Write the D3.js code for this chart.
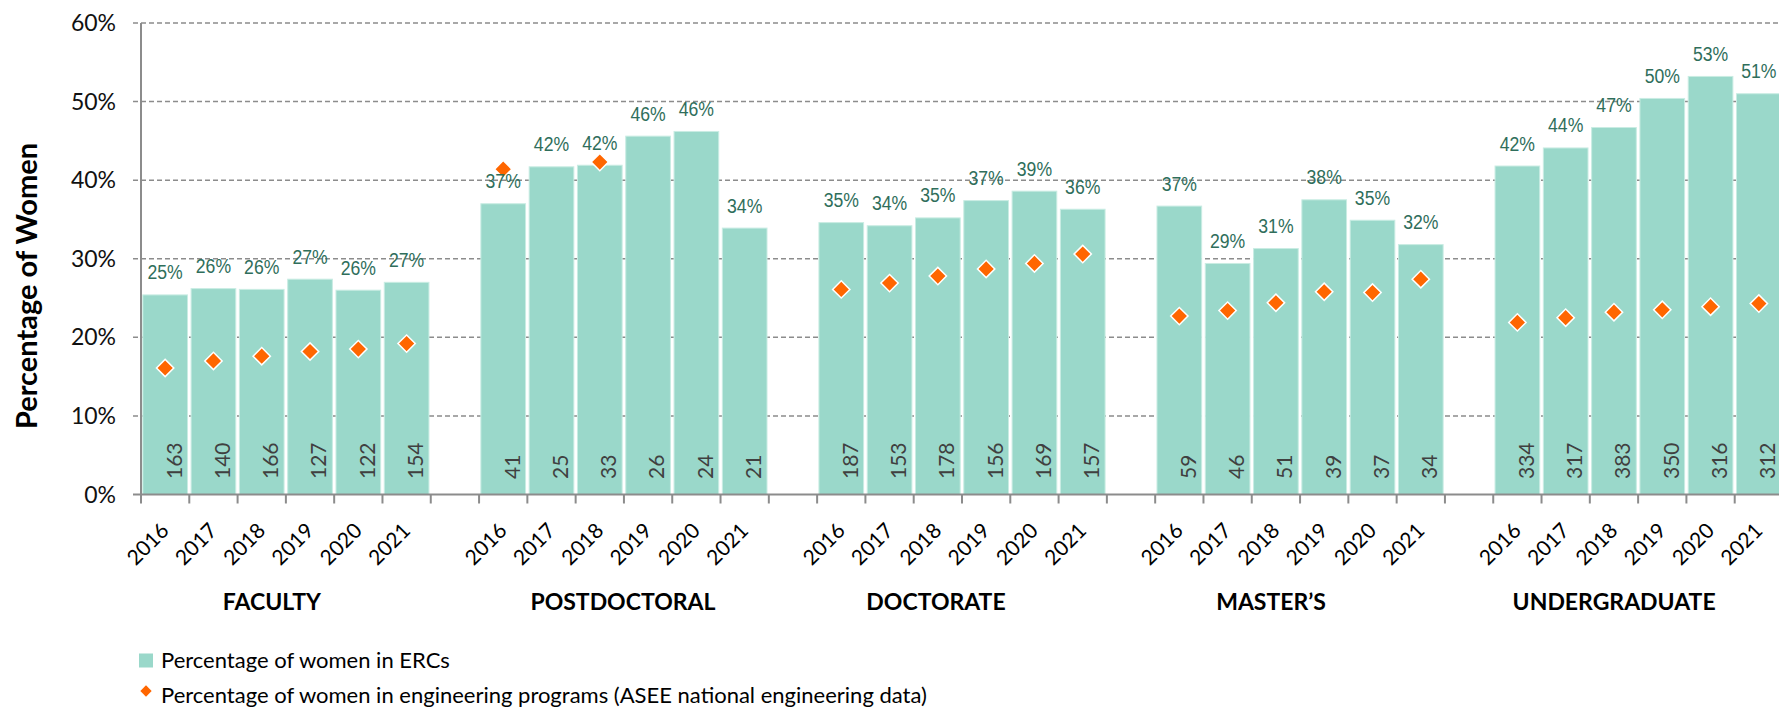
<!DOCTYPE html>
<html>
<head>
<meta charset="utf-8">
<script src="https://cdn.jsdelivr.net/npm/d3@7"></script>
<style>
  body { margin: 0; background: #fff; }
  svg { display: block; font-family: Lato, "Open Sans", sans-serif; }
  .grid line { stroke: #8c8c8c; stroke-width: 1.5; stroke-dasharray: 5 3; }
  .axis-line { stroke: #8c8c8c; stroke-width: 2; }
  .pct-label { font-family: "Liberation Sans", Arial, sans-serif; }
</style>
</head>
<body>
<svg id="chart" width="1779" height="707"></svg>
<script>
// Women in ERCs vs. national engineering programs, 2016-2021

const groups = ["FACULTY", "POSTDOCTORAL", "DOCTORATE", "MASTER\u2019S", "UNDERGRADUATE"];
const years = ["2016", "2017", "2018", "2019", "2020", "2021"];

// percentage of women in ERCs, one row per group
const ercShare = [
    [25.4, 26.2, 26.1, 27.4, 26.0, 27.0],
    [37.0, 41.7, 41.9, 45.6, 46.2, 33.9],
    [34.6, 34.2, 35.2, 37.4, 38.6, 36.3],
    [36.7, 29.4, 31.3, 37.5, 34.9, 31.8],
    [41.8, 44.1, 46.7, 50.4, 53.2, 51.0]
];

// ASEE national engineering data, null where nothing was plotted
const nationalShare = [
    [16.1, 17.0, 17.6, 18.2, 18.5, 19.2],
    [41.4, null, 42.3, null, null, null],
    [26.1, 26.9, 27.8, 28.7, 29.4, 30.6],
    [22.7, 23.4, 24.4, 25.8, 25.7, 27.4],
    [21.9, 22.5, 23.2, 23.5, 23.9, 24.3]
];

// number of women in ERCs (printed inside the bars)
const ercCount = [
    [163, 140, 166, 127, 122, 154],
    [41, 25, 33, 26, 24, 21],
    [187, 153, 178, 156, 169, 157],
    [59, 46, 51, 39, 37, 34],
    [334, 317, 383, 350, 316, 312]
];

const yTicks = [0, 10, 20, 30, 40, 50, 60];
const legendLabels = [
    "Percentage of women in ERCs",
    "Percentage of women in engineering programs (ASEE national engineering data)"
];

// ---- layout ----
const W = 1779, H = 707;
const plot = { left: 141, right: 1783, top: 23, bottom: 494.5 };
const barColor = "#9ad8ca";
const diamondColor = "#ff6600";
const groupLabelNudge = [-14, -1, -26, -29, -24];

// one slot per year, plus an empty slot between groups
const slots = [];
groups.forEach((g, gi) => {
    years.forEach((yr, yi) => {
        slots.push({ key: gi + "-" + yi, gi, yi, year: yr,
            erc: ercShare[gi][yi], nat: nationalShare[gi][yi], n: ercCount[gi][yi] });
    });
    if (gi < groups.length - 1) slots.push({ key: "gap" + gi, gap: true });
});
const data = slots.filter(s => !s.gap);

const x = d3.scaleBand()
    .domain(slots.map(s => s.key))
    .range([plot.left, plot.right])
    .paddingInner(0.075)
    .paddingOuter(0.0375);

const y = d3.scaleLinear()
    .domain([0, 60])
    .range([plot.bottom, plot.top]);

const bw = x.bandwidth();
const cx = d => x(d.key) + bw / 2;

const svg = d3.select("#chart");

// dashed gridlines
svg.append("g").attr("class", "grid")
    .selectAll("line")
    .data(yTicks.filter(t => t > 0))
    .join("line")
    .attr("x1", plot.left - 8)
    .attr("x2", W)
    .attr("y1", d => y(d))
    .attr("y2", d => y(d));

// bars
svg.append("g")
    .selectAll("rect")
    .data(data)
    .join("rect")
    .attr("x", d => x(d.key))
    .attr("width", bw)
    .attr("y", d => y(d.erc))
    .attr("height", d => y(0) - y(d.erc))
    .attr("fill", barColor)
    .attr("stroke", "#c9ece3")
    .attr("stroke-width", 1);

// axes
svg.append("line").attr("class", "axis-line")
    .attr("x1", plot.left).attr("x2", plot.left)
    .attr("y1", y(60)).attr("y2", y(0));
svg.append("line").attr("class", "axis-line")
    .attr("x1", plot.left - 8).attr("x2", W)
    .attr("y1", y(0)).attr("y2", y(0));

svg.append("g")
    .selectAll("line")
    .data(d3.range(slots.length + 1))
    .join("line")
    .attr("class", "axis-line")
    .attr("x1", i => plot.left + i * x.step())
    .attr("x2", i => plot.left + i * x.step())
    .attr("y1", y(0))
    .attr("y2", y(0) + 9);

// y tick labels
svg.append("g")
    .selectAll("text")
    .data(yTicks)
    .join("text")
    .attr("x", plot.left - 25)
    .attr("y", d => y(d))
    .attr("dy", "0.35em")
    .attr("text-anchor", "end")
    .attr("font-size", 23)
    .attr("fill", "#111")
    .text(d => d + "%");

// y axis title
svg.append("text")
    .attr("transform", "translate(27,286) rotate(-90)")
    .attr("dy", "0.35em")
    .attr("text-anchor", "middle")
    .attr("font-size", 29)
    .attr("font-weight", "bold")
    .attr("fill", "#000")
    .text("Percentage of Women");

// national data diamonds
svg.append("g")
    .selectAll("path")
    .data(data.filter(d => d.nat !== null))
    .join("path")
    .attr("d", d3.symbol(d3.symbolSquare, 150))
    .attr("transform", d => `translate(${cx(d)},${y(d.nat)}) rotate(45)`)
    .attr("fill", diamondColor)
    .attr("stroke", "#fff")
    .attr("stroke-width", 1.5);

// percentage labels above bars (narrowed to look like Arial Narrow)
svg.append("g")
    .selectAll("text")
    .data(data)
    .join("text")
    .attr("class", "pct-label")
    .attr("transform", d => `translate(${cx(d)},${y(d.erc) - 15.5}) scale(0.84,1)`)
    .attr("text-anchor", "middle")
    .attr("font-size", 21)
    .attr("fill", "#2f6e5b")
    .text(d => Math.round(d.erc) + "%");

// counts inside bars
svg.append("g")
    .selectAll("text")
    .data(data)
    .join("text")
    .attr("transform", d => `translate(${cx(d) + 9},479) rotate(-90)`)
    .attr("dy", "0.35em")
    .attr("text-anchor", "start")
    .attr("font-size", 21)
    .attr("fill", "#404040")
    .text(d => d.n);

// year labels
svg.append("g")
    .selectAll("text")
    .data(data)
    .join("text")
    .attr("transform", d => `translate(${cx(d) + 5},532) rotate(-45)`)
    .attr("text-anchor", "end")
    .attr("font-size", 21)
    .attr("fill", "#000")
    .text(d => d.year);

// group labels
svg.append("g")
    .selectAll("text")
    .data(groups)
    .join("text")
    .attr("x", (g, gi) => {
        const mid = x(gi + "-2") + x.step() * (1 - x.paddingInner() / 2);
        return mid + groupLabelNudge[gi];
    })
    .attr("y", 610)
    .attr("text-anchor", "middle")
    .attr("font-size", 23)
    .attr("font-weight", "bold")
    .attr("fill", "#000")
    .text(g => g);

// legend
const legend = svg.append("g");
legend.append("rect")
    .attr("x", 139).attr("y", 653.5)
    .attr("width", 14).attr("height", 14)
    .attr("fill", barColor);
legend.append("path")
    .attr("d", d3.symbol(d3.symbolSquare, 64))
    .attr("transform", "translate(146,691) rotate(45)")
    .attr("fill", diamondColor);
legend.selectAll("text")
    .data(legendLabels)
    .join("text")
    .attr("x", 161)
    .attr("y", (d, i) => i === 0 ? 668 : 703)
    .attr("font-size", 22)
    .attr("fill", "#000")
    .text(d => d);
</script>
</body>
</html>
